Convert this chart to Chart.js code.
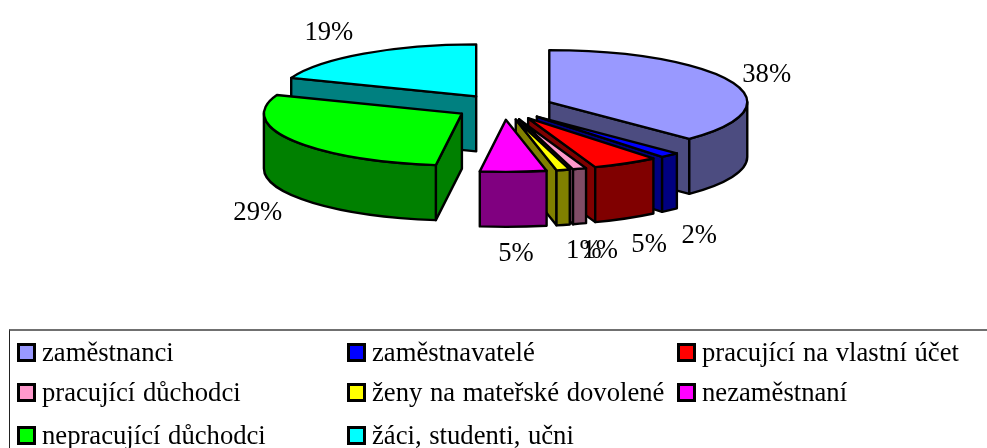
<!DOCTYPE html>
<html>
<head>
<meta charset="utf-8">
<style>
html, body { margin: 0; padding: 0; background: #fff; overflow: hidden; }
#wrap { position: relative; width: 987px; height: 448px; overflow: hidden; }
#legendBox { position: absolute; left: 9px; top: 329px; width: 1000px; height: 140px; border-left: 1px solid #222; border-top: 2px solid #707070; box-sizing: border-box; }
.item { position: absolute; font: 26.67px "Liberation Serif", serif; word-spacing: 1px; color: #000; white-space: nowrap; line-height: 30px; height: 30px; }
.swatch { position: absolute; left: 0; top: 6px; width: 19px; height: 19px; box-sizing: border-box; border: 3px solid #000; }
.item span { position: absolute; left: 25px; top: 0; }
</style>
</head>
<body>
<div id="wrap">
  <canvas id="chart" width="987" height="448"></canvas>
  <div id="legend"></div>
</div>
<script src="https://cdn.jsdelivr.net/npm/chart.js@4"></script>
<script>
const categories = ['zaměstnanci', 'zaměstnavatelé', 'pracující na vlastní účet', 'pracující důchodci',
    'ženy na mateřské dovolené', 'nezaměstnaní', 'nepracující důchodci', 'žáci, studenti, učni'];
const shares = [37.5, 1.6, 5.4, 1.1, 1.1, 5.4, 28.7, 19.2];
const colors = ['#9999ff', '#0000ff', '#ff0000', '#ff99cc', '#ffff00', '#ff00ff', '#00ff00', '#00ffff'];
const wallColors = ['#4c4c80', '#000080', '#800000', '#804c66', '#808000', '#800080', '#008000', '#008080'];

// posun popisku od stredu obvodu vysece
const labelNudge = [[34.5, -7], [29.5, 81], [23.4, 82], [20.5, 82], [20.7, 81], [2.6, 82], [-34, 73], [-35, -21]];
const legendColX = [17, 347, 677];
const legendRowY = [337, 377, 420];

const tilt = 0.2626;   // zplosteni elipsy
const depth = 55;      // vyska kolace

const pie3d = {
    id: 'pie3d',
    beforeDatasetDraw(chart, args) {
        const ctx = chart.ctx;
        const arcs = args.meta.data.map((arc, i) => ({ arc, i }));
        // odzadu dopredu
        const mid = a => (a.arc.startAngle + a.arc.endAngle) / 2;
        arcs.sort((p, q) => Math.sin(mid(p)) - Math.sin(mid(q)));

        ctx.save();
        ctx.lineWidth = 2.4;
        ctx.strokeStyle = '#000';
        ctx.lineJoin = 'round';
        arcs.forEach(item => {
            const { startAngle: a, endAngle: b, outerRadius: r, x, y, options } = item.arc;
            const m = (a + b) / 2;
            const cx = x + Math.cos(m) * options.offset;
            const cy = y + Math.sin(m) * options.offset * tilt;
            const ry = r * tilt;

            const wall = angle => {
                const px = cx + Math.cos(angle) * r;
                const py = cy + Math.sin(angle) * ry;
                ctx.beginPath();
                ctx.moveTo(cx, cy);
                ctx.lineTo(px, py);
                ctx.lineTo(px, py + depth);
                ctx.lineTo(cx, cy + depth);
                ctx.closePath();
                ctx.fillStyle = wallColors[item.i];
                ctx.fill();
                ctx.stroke();
            };
            if (Math.cos(a) < 0) wall(a);
            if (Math.cos(b) > 0) wall(b);

            // vnejsi plast, jen predni polovina
            const lo = Math.max(a, 0);
            const hi = Math.min(b, Math.PI);
            if (lo < hi) {
                ctx.beginPath();
                ctx.ellipse(cx, cy, r, ry, 0, lo, hi);
                ctx.ellipse(cx, cy + depth, r, ry, 0, hi, lo, true);
                ctx.closePath();
                ctx.fillStyle = wallColors[item.i];
                ctx.fill();
                ctx.stroke();
            }

            // horni plocha
            ctx.beginPath();
            ctx.moveTo(cx, cy);
            ctx.ellipse(cx, cy, r, ry, 0, a, b);
            ctx.closePath();
            ctx.fillStyle = colors[item.i];
            ctx.fill();
            ctx.stroke();
        });

        // popisky
        ctx.fillStyle = '#000';
        ctx.font = '26.67px "Liberation Serif", serif';
        ctx.textAlign = 'center';
        ctx.textBaseline = 'middle';
        args.meta.data.forEach((arc, i) => {
            const m = (arc.startAngle + arc.endAngle) / 2;
            const dist = arc.outerRadius + arc.options.offset;
            const lx = arc.x + Math.cos(m) * dist + labelNudge[i][0];
            const ly = arc.y + Math.sin(m) * dist * tilt + labelNudge[i][1];
            ctx.fillText(Math.round(shares[i]) + '%', lx, ly);
        });
        ctx.restore();
        return false;
    }
};

new Chart(document.getElementById('chart'), {
    type: 'pie',
    data: {
        labels: categories,
        datasets: [{ data: shares, backgroundColor: colors, offset: 49 }]
    },
    options: {
        responsive: false,
        animation: false,
        radius: 198,
        layout: { padding: { left: 21, top: 0, right: 0, bottom: 234 } },
        plugins: { legend: { display: false }, tooltip: { enabled: false } }
    },
    plugins: [pie3d]
});

// legenda
const legend = document.getElementById('legend');
legend.innerHTML = '<div id="legendBox"></div>';
categories.forEach((name, i) => {
    const item = document.createElement('div');
    item.className = 'item';
    item.style.left = legendColX[i % 3] + 'px';
    item.style.top = legendRowY[Math.floor(i / 3)] + 'px';
    const swatch = document.createElement('div');
    swatch.className = 'swatch';
    swatch.style.background = colors[i];
    const text = document.createElement('span');
    text.textContent = name;
    item.append(swatch, text);
    legend.appendChild(item);
});
</script>
</body>
</html>
